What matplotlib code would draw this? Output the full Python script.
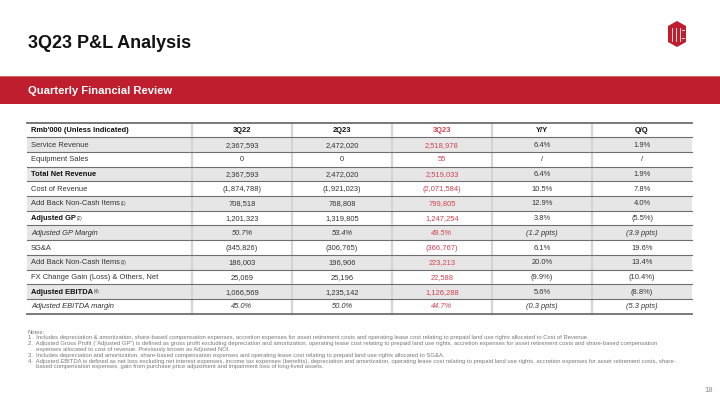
import matplotlib
matplotlib.use("Agg")
import matplotlib.pyplot as plt
from matplotlib.patches import Rectangle, Polygon

plt.rcParams['font.family'] = ['Liberation Sans', 'DejaVu Sans']

title = "3Q23 P&L Analysis"
subtitle = "Quarterly Financial Review"

columns = ["Rmb'000 (Unless Indicated)", "3Q22", "2Q23", "3Q23", "Y/Y", "Q/Q"]
labels = ["Service Revenue", "Equipment Sales", "Total Net Revenue", "Cost of Revenue",
          "Add Back Non-Cash Items", "Adjusted GP", "Adjusted GP Margin", "SG&A",
          "Add Back Non-Cash Items", "FX Change Gain (Loss) & Others, Net",
          "Adjusted EBITDA", "Adjusted EBITDA margin"]
footnote_marks = ["", "", "", "", "(1)", "(2)", "", "", "(3)", "", "(4)", ""]
q3_22 = ["2,367,593", "0", "2,367,593", "(1,874,788)", "708,518", "1,201,323", "50.7%",
         "(345,826)", "186,003", "25,069", "1,066,569", "45.0%"]
q2_23 = ["2,472,020", "0", "2,472,020", "(1,921,023)", "768,808", "1,319,805", "53.4%",
         "(306,765)", "196,906", "25,196", "1,235,142", "50.0%"]
q3_23 = ["2,518,978", "55", "2,519,033", "(2,071,584)", "799,805", "1,247,254", "49.5%",
         "(366,767)", "223,213", "22,588", "1,126,288", "44.7%"]
yoy = ["6.4%", "/", "6.4%", "10.5%", "12.9%", "3.8%", "(1.2 ppts)",
       "6.1%", "20.0%", "(9.9%)", "5.6%", "(0.3 ppts)"]
qoq = ["1.9%", "/", "1.9%", "7.8%", "4.0%", "(5.5%)", "(3.9 ppts)",
       "19.6%", "13.4%", "(10.4%)", "(8.8%)", "(5.3 ppts)"]
bold_rows = ["Total Net Revenue", "Adjusted GP", "Adjusted EBITDA"]
italic_rows = ["Adjusted GP Margin", "Adjusted EBITDA margin"]

notes = [
    "Notes:",
    "1.  Includes depreciation & amortization, share-based compensation expenses, accretion expenses for asset retirement costs and operating lease cost relating to prepaid land use rights allocated to Cost of Revenue.",
    "2.  Adjusted Gross Profit (\u201cAdjusted GP\u201d) is defined as gross profit excluding depreciation and amortization, operating lease cost relating to prepaid land use rights, accretion expenses for asset retirement costs and share-based compensation",
    "     expenses allocated to cost of revenue. Previously known as Adjusted NOI.",
    "3.  Includes depreciation and amortization, share-based compensation expenses and operating lease cost relating to prepaid land use rights allocated to SG&A.",
    "4.  Adjusted EBITDA is defined as net loss excluding net interest expenses, income tax expenses (benefits), depreciation and amortization, operating lease cost relating to prepaid land use rights, accretion expenses for asset retirement costs, share-",
    "     based compensation expenses, gain from purchase price adjustment and impairment loss of long-lived assets.",
]

RED = "#BE1E2D"
RED_TXT = "#D2414F"
TXT = "#333333"

fig = plt.figure(figsize=(7.2, 4.05), dpi=100)
ax = fig.add_axes([0, 0, 1, 1])
ax.set_xlim(0, 720)
ax.set_ylim(405, 0)
ax.axis("off")

# header
ax.text(28, 44, title, fontsize=13, fontweight="bold", color="#111111", va="center")
ax.add_patch(Rectangle((0, 75.5), 720, 28.5, color=RED, lw=0))
ax.plot([0, 720], [75.8, 75.8], color="#E07078", lw=0.6)
ax.text(28, 90.5, subtitle, fontsize=8.1, fontweight="bold", color="white", va="center")

# logo
hexagon = [(677, 21), (686, 26), (686, 42), (677, 47), (668, 42), (668, 26)]
ax.add_patch(Polygon(hexagon, closed=True, color=RED, lw=0))
for x0 in [672, 676, 680]:
    ax.plot([x0, x0], [28, 41], color="white", lw=0.6)
ax.plot([682, 684], [30, 30], color="white", lw=0.6)
ax.plot([682, 684], [38, 38], color="white", lw=0.6)

# table
top = 122.5
rh = 14.7
col_edges = [27, 192, 292, 392, 492, 592, 692]
nrows = len(labels) + 1

for i in range(len(labels)):
    if i % 2 == 0:
        y0 = top + rh * (i + 1)
        ax.add_patch(Rectangle((col_edges[0], y0), col_edges[-1] - col_edges[0], rh,
                               color="#E6E6E6", lw=0))

for x in col_edges[1:-1]:
    ax.plot([x, x], [top, top + rh * nrows], color="#D4D4D4", lw=1.6, zorder=1)

for r in range(nrows + 1):
    y = top + rh * r
    lw = 1.3 if r in (0, nrows) else 0.8
    ax.plot([col_edges[0], col_edges[-1]], [y, y], color="#6E6E6E", lw=lw, zorder=2)

fs = 5.45
centers = [(col_edges[k] + col_edges[k + 1]) / 2 for k in range(1, 6)]
ycen = top + rh / 2 + 0.6
ax.text(31, ycen, columns[0], fontsize=fs, fontweight="bold", color="#111111", va="center")
for k, c in enumerate(columns[1:]):
    ax.text(centers[k], ycen, c, fontsize=fs, fontweight="bold", va="center", ha="center",
            color=RED_TXT if c == "3Q23" else "#111111")

fig.canvas.draw()
renderer = fig.canvas.get_renderer()
series = [q3_22, q2_23, q3_23, yoy, qoq]
for i, lab in enumerate(labels):
    yc = top + rh * (i + 1) + rh / 2 + 0.6
    style = "italic" if lab in italic_rows else "normal"
    weight = "bold" if lab in bold_rows else "normal"
    t = ax.text(31, yc, lab, fontsize=fs, fontweight=weight, style=style,
                color="#111111" if weight == "bold" else TXT, va="center")
    if footnote_marks[i]:
        bb = t.get_window_extent(renderer)
        xe = ax.transData.inverted().transform((bb.x1, bb.y0))[0]
        ax.text(xe + 0.5, yc - 0.5, footnote_marks[i], fontsize=3.3, color=TXT, va="center")
    for k, vals in enumerate(series):
        ax.text(centers[k], yc, vals[i], fontsize=fs, style=style, va="center", ha="center",
                color=RED_TXT if k == 2 else TXT)

# notes
for j, line in enumerate(notes):
    ax.text(28, 332 + j * 5.8, line, fontsize=4.25, color="#777777", va="center")

ax.text(713, 390, "18", fontsize=5.5, color="#888888", va="center", ha="right")

fig.savefig("out.png", dpi=100)
